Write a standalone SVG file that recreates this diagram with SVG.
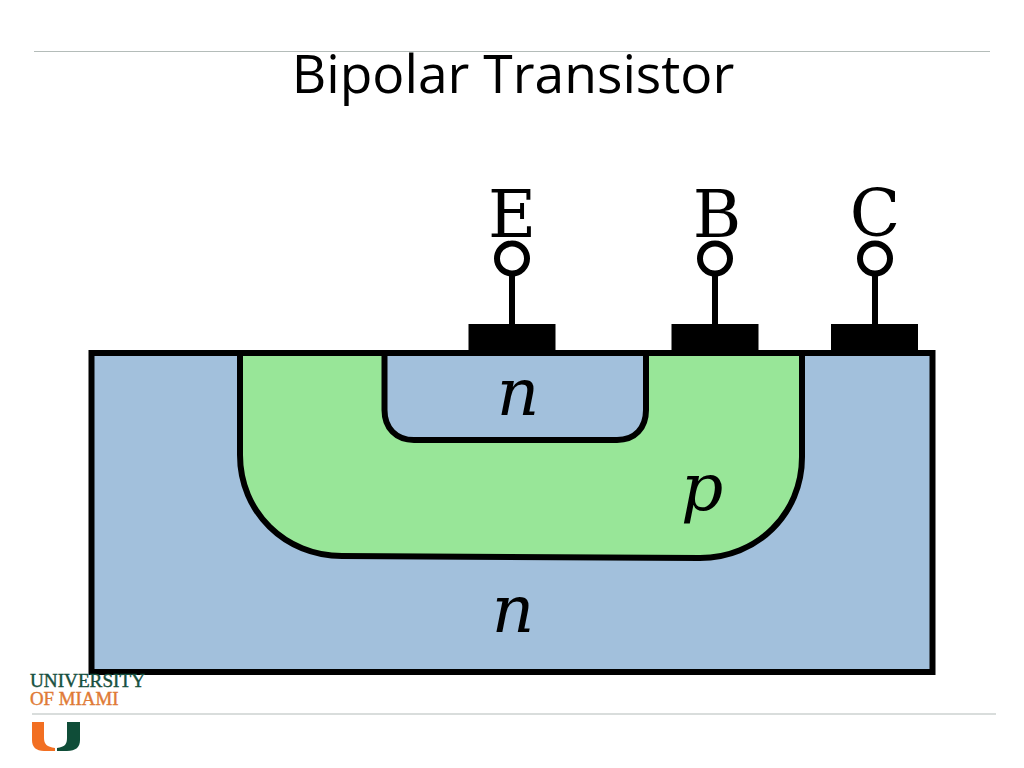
<svg xmlns="http://www.w3.org/2000/svg" width="1024" height="768" viewBox="0 0 1024 768">
<style>
.o{stroke:#000;stroke-width:6;stroke-linejoin:miter}
.lab{font-family:"DejaVu Serif",serif;font-size:66px;fill:#000;text-anchor:middle}
.it{font-style:italic}
.pad{fill:#000}
.wire{stroke:#000;stroke-width:6;fill:none}
.pin{fill:#fff;stroke:#000;stroke-width:6}
.logo{font-family:"Liberation Serif",serif;font-size:18.500px}
</style>
<rect width="1024" height="768" fill="#fff"/>
<line x1="34" y1="51.500" x2="990" y2="51.500" stroke="#b4bcb9" stroke-width="1"/>
<text x="513" y="93" font-family="'Open Sans','Noto Sans',sans-serif" font-size="53.400" text-anchor="middle" fill="#000">Bipolar Transistor</text>
<g id="substrate"><rect class="o" x="91.500" y="353" width="841" height="319" fill="#a2c0dc"/></g>
<g id="p-region"><path class="o" d="M240 353V455C240 512 285 556 342 556L700 558C757 558 802 514 802 457V353Z" fill="#98e698"/></g>
<g id="n-region"><path class="o" d="M384.500 353V410C384.500 428 396 440 414 440H617C635 440 646 428 646 410V353Z" fill="#a2c0dc"/></g>
<g id="connectors">
<line class="wire" x1="512" y1="272" x2="512" y2="326"/>
<line class="wire" x1="715" y1="272" x2="715" y2="326"/>
<line class="wire" x1="875" y1="272" x2="875" y2="326"/>
</g>
<g id="emitter"><rect class="pad" x="468.500" y="324" width="87" height="28"/><circle class="pin" cx="512" cy="258.500" r="15"/><text class="lab" x="512" y="237">E</text></g>
<g id="base"><rect class="pad" x="671.500" y="324" width="87" height="28"/><circle class="pin" cx="715" cy="258.500" r="15"/><text class="lab" x="717" y="237">B</text></g>
<g id="collector"><rect class="pad" x="831" y="324" width="87" height="28"/><circle class="pin" cx="875" cy="258.500" r="15"/><text class="lab" x="875" y="236">C</text></g>
<text class="lab it" x="518" y="415">n</text>
<text class="lab it" x="702" y="510">p</text>
<text class="lab it" x="513" y="632">n</text>
<g id="logo">
<text class="logo" x="30" y="686.500" fill="#17503f" stroke="#17503f" stroke-width="0.400" textLength="115" lengthAdjust="spacingAndGlyphs">UNIVERSITY</text>
<text class="logo" x="30" y="705" fill="#e07a35" stroke="#e07a35" stroke-width="0.400" textLength="88.500" lengthAdjust="spacingAndGlyphs">OF MIAMI</text>
<line x1="32" y1="714" x2="996" y2="714" stroke="#b4bcb9" stroke-width="1.200"/>
<path d="M32 722H44V738C44 744 47 747 55 748V751H44C36 751 32 747 32 740Z" fill="#f26f22"/>
<path d="M80 722H67V738C67 744 65 747 57 748V751H67C76 751 80 747 80 740Z" fill="#0f4d38"/>
</g>
</svg>
